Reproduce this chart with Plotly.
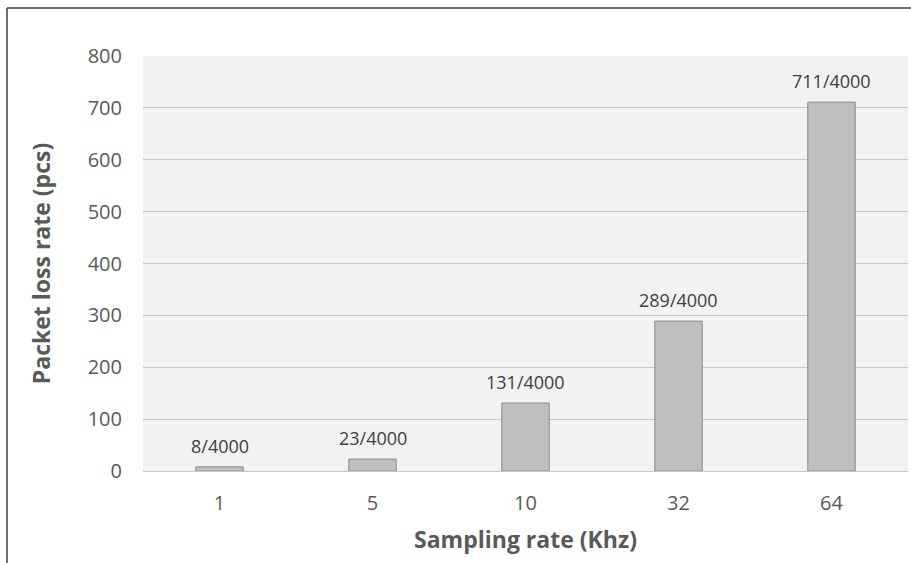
import plotly.graph_objects as go

categories = ["1", "5", "10", "32", "64"]
values = [8, 23, 131, 289, 711]
labels = ["8/4000", "23/4000", "131/4000", "289/4000", "711/4000"]
y_ticks = [0, 100, 200, 300, 400, 500, 600, 700, 800]

W, H = 911, 563
L, R, T, B = 143, 3, 56, 92
pw, ph = W - L - R, H - T - B

fig = go.Figure(go.Bar(
    x=categories, y=values,
    marker=dict(color="#bfbfbf", line=dict(color="#8c8c8c", width=1)),
    width=0.31, cliponaxis=False,
))

for i, (v, t) in enumerate(zip(values, labels)):
    fig.add_annotation(x=i, y=v, text=t, showarrow=False, xanchor="center", yanchor="bottom",
                       yshift=7, font=dict(family="Open Sans", size=18, color="#404040"))

fig.update_layout(
    width=W, height=H, margin=dict(l=L, r=R, t=T, b=B),
    paper_bgcolor="white", plot_bgcolor="#f2f2f2",
    showlegend=False,
    font=dict(family="Open Sans", color="#595959"),
    xaxis=dict(
        type="category", categoryorder="array", categoryarray=categories,
        range=[-0.5, len(categories) - 0.5],
        showgrid=False, showline=False, zeroline=False,
        ticks="", tickfont=dict(size=20, color="#595959"), ticklabelstandoff=18,
        title=dict(text="<b>Sampling rate (Khz)</b>", font=dict(size=23, color="#595959"), standoff=16),
    ),
    yaxis=dict(
        range=[0, 800], tickvals=y_ticks, showgrid=True, gridcolor="#c6c6c6", gridwidth=1,
        zeroline=True, zerolinecolor="#c6c6c6", zerolinewidth=1, showline=False,
        ticks="", tickfont=dict(size=20, color="#595959"), ticklabelstandoff=20,
        title=dict(text="<b>Packet loss rate (pcs)</b>", font=dict(size=23, color="#595959"), standoff=30),
    ),
    shapes=[
        dict(type="line", xref="paper", yref="paper",
             x0=(7 - L) / pw, x1=(W + 5 - L) / pw, y0=1 + (T - 8) / ph, y1=1 + (T - 8) / ph,
             line=dict(color="#404040", width=1.5)),
        dict(type="line", xref="paper", yref="paper",
             x0=(7 - L) / pw, x1=(7 - L) / pw, y0=1 + (T - 8) / ph, y1=-(B + 5) / ph,
             line=dict(color="#404040", width=1.5)),
    ],
)

fig.write_html("out.html")
